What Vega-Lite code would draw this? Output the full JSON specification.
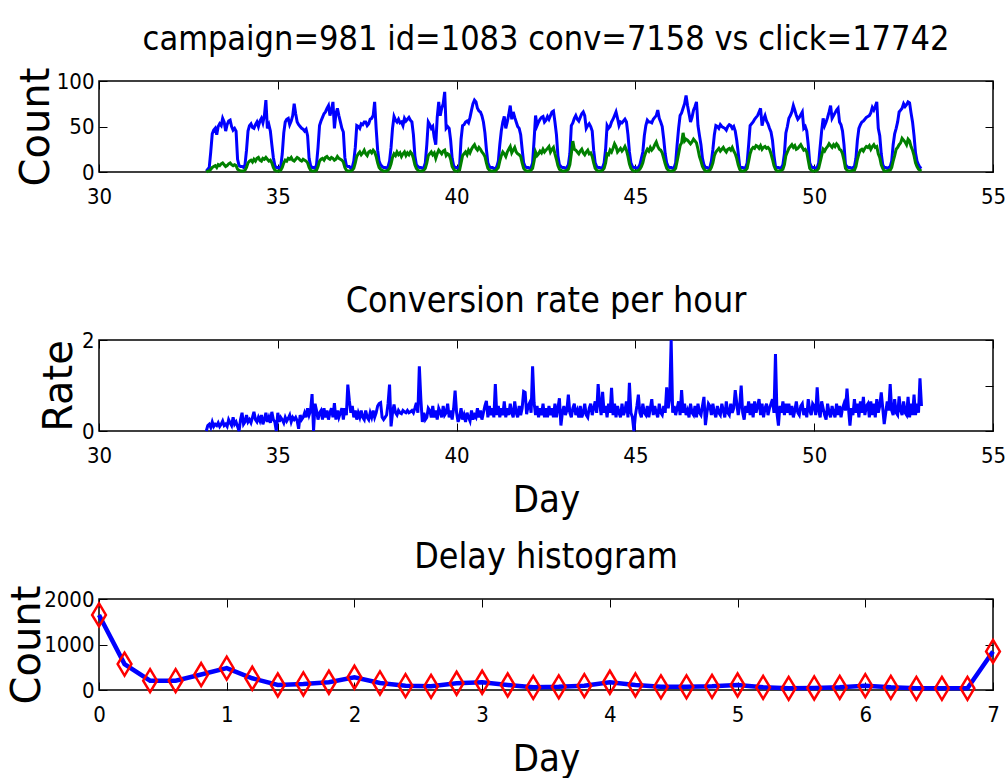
{
"$schema": "https://vega.github.io/schema/vega-lite/v6.json",
"background": "white",
"padding": {"left": 6, "top": 22, "right": 0, "bottom": 0},
"config": {
 "view": {"stroke": "black", "strokeWidth": 1.5},
 "axis": {"domain": false, "grid": false, "ticks": true, "tickSize": -8, "tickColor": "black", "tickWidth": 1,
  "labelFont": "DejaVu Sans Condensed", "labelFontSize": 22, "labelColor": "black",
  "labelFlush": false, "labelOverlap": false, "titleFontWeight": "normal", "titleColor": "black"},
 "axisX": {"labelPadding": 22, "titleFont": "DejaVu Sans Condensed", "titleFontSize": 38, "titlePadding": 15},
 "axisY": {"labelPadding": 13, "titleFont": "DejaVu Sans", "titleFontSize": 40, "titlePadding": 0},
 "title": {"font": "DejaVu Sans Condensed", "fontSize": 34, "fontWeight": "normal", "color": "black", "offset": 10}
},
"datasets": {
"h": [
{"t":33,"b":1,"g":0,"r":0},{"t":33.042,"b":3,"g":1,"r":0.12},{"t":33.083,"b":5,"g":1,"r":0.15},{"t":33.125,"b":22,"g":3,"r":0.08},{"t":33.167,"b":42,"g":5,"r":0.2},{"t":33.208,"b":46,"g":6,"r":0.1},{"t":33.25,"b":48,"g":7,"r":0.15},{"t":33.292,"b":41,"g":5,"r":0.12},{"t":33.333,"b":50,"g":8,"r":0.18},{"t":33.375,"b":53,"g":7,"r":0.1},{"t":33.417,"b":51,"g":9,"r":0.15},{"t":33.458,"b":59,"g":10,"r":0.22},{"t":33.5,"b":55,"g":8,"r":0.12},{"t":33.542,"b":45,"g":6,"r":0.15},{"t":33.583,"b":52,"g":7,"r":0.1},{"t":33.625,"b":56,"g":9,"r":0.25},{"t":33.667,"b":57,"g":10,"r":0.18},{"t":33.708,"b":50,"g":8,"r":0.12},{"t":33.75,"b":46,"g":7,"r":0.3},{"t":33.792,"b":48,"g":8,"r":0.15},{"t":33.833,"b":45,"g":7,"r":0.2},{"t":33.875,"b":14,"g":3,"r":0.1},{"t":33.917,"b":7,"g":2,"r":0},{"t":33.958,"b":6,"g":1,"r":0.25},
{"t":34,"b":6,"g":1,"r":0.4},{"t":34.042,"b":5,"g":1,"r":0.15},{"t":34.083,"b":8,"g":2,"r":0.2},{"t":34.125,"b":24,"g":5,"r":0.35},{"t":34.167,"b":45,"g":10,"r":0.2},{"t":34.208,"b":51,"g":12,"r":0.25},{"t":34.25,"b":53,"g":13,"r":0.18},{"t":34.292,"b":49,"g":11,"r":0.3},{"t":34.333,"b":48,"g":14,"r":0.42},{"t":34.375,"b":52,"g":12,"r":0.25},{"t":34.417,"b":55,"g":15,"r":0.2},{"t":34.458,"b":50,"g":16,"r":0.3},{"t":34.5,"b":56,"g":13,"r":0.22},{"t":34.542,"b":59,"g":12,"r":0.35},{"t":34.583,"b":54,"g":15,"r":0.15},{"t":34.625,"b":62,"g":14,"r":0.25},{"t":34.667,"b":79,"g":16,"r":0.4},{"t":34.708,"b":48,"g":14,"r":0.2},{"t":34.75,"b":52,"g":12,"r":0.3},{"t":34.792,"b":45,"g":13,"r":0.18},{"t":34.833,"b":30,"g":10,"r":0.42},{"t":34.875,"b":16,"g":5,"r":0.25},{"t":34.917,"b":7,"g":2,"r":0.2},{"t":34.958,"b":5,"g":1,"r":0},
{"t":35,"b":5,"g":1,"r":0.4},{"t":35.042,"b":4,"g":1,"r":0.2},{"t":35.083,"b":6,"g":2,"r":0.3},{"t":35.125,"b":20,"g":5,"r":0.25},{"t":35.167,"b":43,"g":10,"r":0.18},{"t":35.208,"b":55,"g":13,"r":0.3},{"t":35.25,"b":58,"g":12,"r":0.22},{"t":35.292,"b":59,"g":15,"r":0.28},{"t":35.333,"b":52,"g":14,"r":0.35},{"t":35.375,"b":56,"g":16,"r":0.2},{"t":35.417,"b":62,"g":13,"r":0.3},{"t":35.458,"b":75,"g":12,"r":0.25},{"t":35.5,"b":64,"g":14,"r":0.3},{"t":35.542,"b":55,"g":16,"r":0.22},{"t":35.583,"b":52,"g":15,"r":0.05},{"t":35.625,"b":50,"g":13,"r":0.35},{"t":35.667,"b":48,"g":12,"r":0.25},{"t":35.708,"b":47,"g":14,"r":0.3},{"t":35.75,"b":45,"g":13,"r":0.4},{"t":35.792,"b":47,"g":12,"r":0.3},{"t":35.833,"b":40,"g":10,"r":0.5},{"t":35.875,"b":15,"g":5,"r":0.35},{"t":35.917,"b":7,"g":2,"r":0.45},{"t":35.958,"b":5,"g":1,"r":0.81},
{"t":36,"b":5,"g":1,"r":0},{"t":36.042,"b":4,"g":1,"r":0.6},{"t":36.083,"b":8,"g":2,"r":0.45},{"t":36.125,"b":27,"g":6,"r":0.25},{"t":36.167,"b":51,"g":12,"r":0.4},{"t":36.208,"b":56,"g":14,"r":0.45},{"t":36.25,"b":60,"g":15,"r":0.25},{"t":36.292,"b":64,"g":13,"r":0.5},{"t":36.333,"b":66,"g":16,"r":0.3},{"t":36.375,"b":70,"g":17,"r":0.45},{"t":36.417,"b":73,"g":15,"r":0.25},{"t":36.458,"b":62,"g":14,"r":0.4},{"t":36.5,"b":68,"g":16,"r":0.5},{"t":36.542,"b":77,"g":15,"r":0.3},{"t":36.583,"b":48,"g":13,"r":0.61},{"t":36.625,"b":64,"g":14,"r":0.25},{"t":36.667,"b":70,"g":17,"r":0.45},{"t":36.708,"b":62,"g":15,"r":0.3},{"t":36.75,"b":55,"g":14,"r":0.4},{"t":36.792,"b":48,"g":13,"r":0.5},{"t":36.833,"b":44,"g":11,"r":0.25},{"t":36.875,"b":16,"g":5,"r":0.5},{"t":36.917,"b":7,"g":2,"r":0.35},{"t":36.958,"b":6,"g":1,"r":1.02},
{"t":37,"b":6,"g":1,"r":0.67},{"t":37.042,"b":4,"g":1,"r":0.4},{"t":37.083,"b":5,"g":2,"r":0.55},{"t":37.125,"b":12,"g":4,"r":0.3},{"t":37.167,"b":27,"g":10,"r":0.45},{"t":37.208,"b":51,"g":17,"r":0.25},{"t":37.25,"b":50,"g":20,"r":0.4},{"t":37.292,"b":48,"g":22,"r":0.3},{"t":37.333,"b":53,"g":19,"r":0.45},{"t":37.375,"b":52,"g":21,"r":0.3},{"t":37.417,"b":55,"g":24,"r":0.25},{"t":37.458,"b":55,"g":20,"r":0.45},{"t":37.5,"b":51,"g":18,"r":0.3},{"t":37.542,"b":53,"g":22,"r":0.25},{"t":37.583,"b":58,"g":23,"r":0.4},{"t":37.625,"b":59,"g":21,"r":0.3},{"t":37.667,"b":62,"g":24,"r":0.45},{"t":37.708,"b":77,"g":22,"r":0.3},{"t":37.75,"b":48,"g":17,"r":0.4},{"t":37.792,"b":24,"g":10,"r":0.55},{"t":37.833,"b":12,"g":5,"r":0.6},{"t":37.875,"b":8,"g":3,"r":0.62},{"t":37.917,"b":6,"g":2,"r":0.3},{"t":37.958,"b":5,"g":1,"r":0.25},
{"t":38,"b":5,"g":1,"r":0.3},{"t":38.042,"b":4,"g":1,"r":0.35},{"t":38.083,"b":6,"g":2,"r":0.6},{"t":38.125,"b":12,"g":4,"r":1.02},{"t":38.167,"b":27,"g":9,"r":0.1},{"t":38.208,"b":48,"g":16,"r":0.4},{"t":38.25,"b":61,"g":20,"r":0.58},{"t":38.292,"b":57,"g":18,"r":0.4},{"t":38.333,"b":55,"g":22,"r":0.35},{"t":38.375,"b":58,"g":19,"r":0.45},{"t":38.417,"b":54,"g":21,"r":0.4},{"t":38.458,"b":55,"g":17,"r":0.38},{"t":38.5,"b":51,"g":20,"r":0.45},{"t":38.542,"b":59,"g":22,"r":0.42},{"t":38.583,"b":56,"g":18,"r":0.4},{"t":38.625,"b":58,"g":21,"r":0.45},{"t":38.667,"b":60,"g":19,"r":0.4},{"t":38.708,"b":57,"g":22,"r":0.42},{"t":38.75,"b":55,"g":20,"r":0.45},{"t":38.792,"b":41,"g":15,"r":0.4},{"t":38.833,"b":18,"g":8,"r":0.5},{"t":38.875,"b":8,"g":4,"r":0.62},{"t":38.917,"b":6,"g":2,"r":0.4},{"t":38.958,"b":5,"g":1,"r":1.42},
{"t":39,"b":5,"g":1,"r":0.7},{"t":39.042,"b":4,"g":1,"r":0.2},{"t":39.083,"b":5,"g":2,"r":0.4},{"t":39.125,"b":10,"g":4,"r":0.25},{"t":39.167,"b":30,"g":10,"r":0.3},{"t":39.208,"b":55,"g":18,"r":0.5},{"t":39.25,"b":52,"g":20,"r":0.45},{"t":39.292,"b":48,"g":22,"r":0.3},{"t":39.333,"b":50,"g":19,"r":0.55},{"t":39.375,"b":38,"g":21,"r":0.3},{"t":39.417,"b":30,"g":15,"r":0.45},{"t":39.458,"b":60,"g":20,"r":0.25},{"t":39.5,"b":77,"g":24,"r":0.5},{"t":39.542,"b":62,"g":22,"r":0.42},{"t":39.583,"b":70,"g":20,"r":0.3},{"t":39.625,"b":75,"g":23,"r":0.55},{"t":39.667,"b":88,"g":24,"r":0.35},{"t":39.708,"b":48,"g":18,"r":0.4},{"t":39.75,"b":50,"g":20,"r":0.6},{"t":39.792,"b":48,"g":19,"r":0.3},{"t":39.833,"b":35,"g":14,"r":0.45},{"t":39.875,"b":15,"g":6,"r":0.25},{"t":39.917,"b":7,"g":3,"r":0.5},{"t":39.958,"b":5,"g":1,"r":0.89},
{"t":40,"b":5,"g":1,"r":0.4},{"t":40.042,"b":4,"g":1,"r":0.2},{"t":40.083,"b":6,"g":2,"r":0.3},{"t":40.125,"b":36,"g":10,"r":0.5},{"t":40.167,"b":51,"g":18,"r":0.25},{"t":40.208,"b":52,"g":20,"r":0.35},{"t":40.25,"b":55,"g":22,"r":0.2},{"t":40.292,"b":56,"g":19,"r":0.4},{"t":40.333,"b":54,"g":24,"r":0.3},{"t":40.375,"b":60,"g":21,"r":0.22},{"t":40.417,"b":68,"g":25,"r":0.45},{"t":40.458,"b":75,"g":28,"r":0.25},{"t":40.5,"b":79,"g":30,"r":0.35},{"t":40.542,"b":77,"g":26,"r":0.3},{"t":40.583,"b":70,"g":24,"r":0.5},{"t":40.625,"b":67,"g":27,"r":0.3},{"t":40.667,"b":66,"g":25,"r":0.45},{"t":40.708,"b":62,"g":22,"r":0.25},{"t":40.75,"b":55,"g":20,"r":0.4},{"t":40.792,"b":43,"g":17,"r":0.55},{"t":40.833,"b":25,"g":10,"r":0.66},{"t":40.875,"b":10,"g":4,"r":0.3},{"t":40.917,"b":6,"g":2,"r":0.55},{"t":40.958,"b":5,"g":1,"r":0.35},
{"t":41,"b":5,"g":1,"r":0.5},{"t":41.042,"b":4,"g":1,"r":0.3},{"t":41.083,"b":3,"g":1,"r":1.03},{"t":41.125,"b":6,"g":3,"r":0.35},{"t":41.167,"b":12,"g":5,"r":0.55},{"t":41.208,"b":30,"g":12,"r":0.3},{"t":41.25,"b":45,"g":18,"r":0.5},{"t":41.292,"b":55,"g":22,"r":0.35},{"t":41.333,"b":61,"g":20,"r":0.65},{"t":41.375,"b":48,"g":17,"r":0.3},{"t":41.417,"b":55,"g":22,"r":0.5},{"t":41.458,"b":63,"g":25,"r":0.35},{"t":41.5,"b":73,"g":28,"r":0.6},{"t":41.542,"b":58,"g":21,"r":0.4},{"t":41.583,"b":66,"g":24,"r":0.3},{"t":41.625,"b":60,"g":27,"r":0.65},{"t":41.667,"b":55,"g":22,"r":0.4},{"t":41.708,"b":50,"g":20,"r":0.3},{"t":41.75,"b":48,"g":19,"r":0.55},{"t":41.792,"b":41,"g":17,"r":0.35},{"t":41.833,"b":25,"g":10,"r":0.5},{"t":41.875,"b":10,"g":4,"r":0.87},{"t":41.917,"b":6,"g":2,"r":0.85},{"t":41.958,"b":5,"g":1,"r":0.37},
{"t":42,"b":5,"g":1,"r":0.55},{"t":42.042,"b":4,"g":1,"r":0.62},{"t":42.083,"b":5,"g":2,"r":0.4},{"t":42.125,"b":10,"g":4,"r":1.42},{"t":42.167,"b":35,"g":12,"r":0.62},{"t":42.208,"b":62,"g":22,"r":0.35},{"t":42.25,"b":51,"g":18,"r":0.55},{"t":42.292,"b":55,"g":20,"r":0.3},{"t":42.333,"b":58,"g":23,"r":0.5},{"t":42.375,"b":60,"g":21,"r":0.35},{"t":42.417,"b":61,"g":25,"r":0.6},{"t":42.458,"b":55,"g":22,"r":0.3},{"t":42.5,"b":57,"g":24,"r":0.5},{"t":42.542,"b":61,"g":26,"r":0.3},{"t":42.583,"b":58,"g":28,"r":0.55},{"t":42.625,"b":62,"g":22,"r":0.35},{"t":42.667,"b":66,"g":25,"r":0.5},{"t":42.708,"b":67,"g":27,"r":0.3},{"t":42.75,"b":55,"g":20,"r":0.6},{"t":42.792,"b":41,"g":14,"r":0.3},{"t":42.833,"b":18,"g":7,"r":0.5},{"t":42.875,"b":8,"g":3,"r":0.72},{"t":42.917,"b":6,"g":2,"r":0.12},{"t":42.958,"b":5,"g":1,"r":0.4},
{"t":43,"b":5,"g":1,"r":0.55},{"t":43.042,"b":4,"g":1,"r":0.35},{"t":43.083,"b":5,"g":2,"r":0.45},{"t":43.125,"b":8,"g":3,"r":0.8},{"t":43.167,"b":20,"g":8,"r":0.4},{"t":43.208,"b":51,"g":20,"r":0.3},{"t":43.25,"b":54,"g":34,"r":0.5},{"t":43.292,"b":59,"g":25,"r":0.6},{"t":43.333,"b":62,"g":24,"r":0.35},{"t":43.375,"b":58,"g":22,"r":0.45},{"t":43.417,"b":56,"g":20,"r":0.3},{"t":43.458,"b":60,"g":23,"r":0.55},{"t":43.5,"b":64,"g":25,"r":0.3},{"t":43.542,"b":66,"g":21,"r":0.4},{"t":43.583,"b":62,"g":19,"r":0.6},{"t":43.625,"b":48,"g":22,"r":0.35},{"t":43.667,"b":51,"g":24,"r":0.3},{"t":43.708,"b":53,"g":20,"r":0.5},{"t":43.75,"b":50,"g":21,"r":0.6},{"t":43.792,"b":45,"g":17,"r":0.35},{"t":43.833,"b":24,"g":10,"r":0.5},{"t":43.875,"b":10,"g":4,"r":0.65},{"t":43.917,"b":6,"g":2,"r":0.4},{"t":43.958,"b":5,"g":1,"r":1.03},
{"t":44,"b":5,"g":1,"r":0.6},{"t":44.042,"b":4,"g":1,"r":0.35},{"t":44.083,"b":5,"g":2,"r":0.86},{"t":44.125,"b":10,"g":4,"r":0.4},{"t":44.167,"b":25,"g":10,"r":0.55},{"t":44.208,"b":51,"g":20,"r":0.3},{"t":44.25,"b":48,"g":19,"r":0.6},{"t":44.292,"b":50,"g":24,"r":0.4},{"t":44.333,"b":55,"g":22,"r":0.95},{"t":44.375,"b":58,"g":26,"r":0.35},{"t":44.417,"b":62,"g":31,"r":0.6},{"t":44.458,"b":66,"g":28,"r":0.3},{"t":44.5,"b":59,"g":22,"r":0.55},{"t":44.542,"b":51,"g":24,"r":0.4},{"t":44.583,"b":55,"g":26,"r":0.3},{"t":44.625,"b":54,"g":23,"r":0.6},{"t":44.667,"b":56,"g":25,"r":0.35},{"t":44.708,"b":58,"g":28,"r":0.45},{"t":44.75,"b":55,"g":24,"r":0.65},{"t":44.792,"b":41,"g":17,"r":0.3},{"t":44.833,"b":22,"g":9,"r":1.06},{"t":44.875,"b":10,"g":4,"r":0.4},{"t":44.917,"b":6,"g":2,"r":0.3},{"t":44.958,"b":5,"g":1,"r":0},
{"t":45,"b":5,"g":1,"r":0.35},{"t":45.042,"b":4,"g":1,"r":0.55},{"t":45.083,"b":5,"g":2,"r":0.8},{"t":45.125,"b":8,"g":3,"r":0.4},{"t":45.167,"b":15,"g":6,"r":0.3},{"t":45.208,"b":22,"g":10,"r":0.6},{"t":45.25,"b":40,"g":17,"r":0.4},{"t":45.292,"b":51,"g":22,"r":0.35},{"t":45.333,"b":57,"g":25,"r":0.55},{"t":45.375,"b":55,"g":23,"r":0.3},{"t":45.417,"b":55,"g":27,"r":0.5},{"t":45.458,"b":54,"g":24,"r":0.7},{"t":45.5,"b":58,"g":26,"r":0.35},{"t":45.542,"b":60,"g":30,"r":0.55},{"t":45.583,"b":62,"g":33,"r":0.4},{"t":45.625,"b":68,"g":28,"r":0.3},{"t":45.667,"b":59,"g":25,"r":0.6},{"t":45.708,"b":55,"g":24,"r":0.4},{"t":45.75,"b":50,"g":21,"r":0.35},{"t":45.792,"b":36,"g":15,"r":0.55},{"t":45.833,"b":20,"g":9,"r":0.4},{"t":45.875,"b":10,"g":4,"r":0.96},{"t":45.917,"b":6,"g":2,"r":0.5},{"t":45.958,"b":5,"g":1,"r":0.7},
{"t":46,"b":5,"g":1,"r":2.0},{"t":46.042,"b":4,"g":1,"r":0.4},{"t":46.083,"b":5,"g":2,"r":0.55},{"t":46.125,"b":10,"g":4,"r":0.35},{"t":46.167,"b":30,"g":12,"r":0.5},{"t":46.208,"b":48,"g":20,"r":0.65},{"t":46.25,"b":62,"g":29,"r":0.35},{"t":46.292,"b":65,"g":32,"r":0.9},{"t":46.333,"b":70,"g":43,"r":0.4},{"t":46.375,"b":75,"g":34,"r":0.6},{"t":46.417,"b":84,"g":36,"r":0.35},{"t":46.458,"b":73,"g":35,"r":0.45},{"t":46.5,"b":64,"g":33,"r":0.3},{"t":46.542,"b":55,"g":31,"r":0.6},{"t":46.583,"b":60,"g":33,"r":0.4},{"t":46.625,"b":68,"g":36,"r":0.35},{"t":46.667,"b":72,"g":34,"r":0.55},{"t":46.708,"b":77,"g":32,"r":0.3},{"t":46.75,"b":51,"g":25,"r":0.6},{"t":46.792,"b":40,"g":17,"r":0.4},{"t":46.833,"b":30,"g":12,"r":0.35},{"t":46.875,"b":15,"g":6,"r":0.55},{"t":46.917,"b":8,"g":3,"r":0.75},{"t":46.958,"b":5,"g":1,"r":0.13},
{"t":47,"b":5,"g":1,"r":0.4},{"t":47.042,"b":4,"g":1,"r":0.6},{"t":47.083,"b":5,"g":2,"r":0.55},{"t":47.125,"b":12,"g":5,"r":0.35},{"t":47.167,"b":25,"g":10,"r":0.6},{"t":47.208,"b":41,"g":18,"r":0.4},{"t":47.25,"b":51,"g":22,"r":0.3},{"t":47.292,"b":50,"g":24,"r":0.55},{"t":47.333,"b":48,"g":26,"r":0.4},{"t":47.375,"b":52,"g":23,"r":0.35},{"t":47.417,"b":50,"g":25,"r":0.6},{"t":47.458,"b":49,"g":27,"r":0.45},{"t":47.5,"b":48,"g":24,"r":0.3},{"t":47.542,"b":46,"g":22,"r":0.65},{"t":47.583,"b":50,"g":25,"r":0.4},{"t":47.625,"b":52,"g":26,"r":0.35},{"t":47.667,"b":51,"g":24,"r":0.6},{"t":47.708,"b":48,"g":27,"r":0.4},{"t":47.75,"b":50,"g":23,"r":0.5},{"t":47.792,"b":45,"g":20,"r":0.9},{"t":47.833,"b":35,"g":15,"r":0.62},{"t":47.875,"b":21,"g":8,"r":0.35},{"t":47.917,"b":6,"g":3,"r":0.55},{"t":47.958,"b":5,"g":1,"r":1.0},
{"t":48,"b":5,"g":1,"r":0.4},{"t":48.042,"b":4,"g":1,"r":0.25},{"t":48.083,"b":5,"g":2,"r":0.55},{"t":48.125,"b":10,"g":4,"r":0.4},{"t":48.167,"b":30,"g":12,"r":0.65},{"t":48.208,"b":51,"g":20,"r":0.35},{"t":48.25,"b":53,"g":25,"r":0.6},{"t":48.292,"b":55,"g":27,"r":0.3},{"t":48.333,"b":58,"g":26,"r":0.65},{"t":48.375,"b":60,"g":29,"r":0.4},{"t":48.417,"b":62,"g":28,"r":0.55},{"t":48.458,"b":66,"g":26,"r":0.7},{"t":48.5,"b":70,"g":29,"r":0.35},{"t":48.542,"b":51,"g":25,"r":0.6},{"t":48.583,"b":58,"g":27,"r":0.3},{"t":48.625,"b":62,"g":28,"r":0.5},{"t":48.667,"b":56,"g":26,"r":0.6},{"t":48.708,"b":53,"g":27,"r":0.35},{"t":48.75,"b":48,"g":25,"r":0.5},{"t":48.792,"b":44,"g":20,"r":0.6},{"t":48.833,"b":35,"g":14,"r":0.7},{"t":48.875,"b":18,"g":7,"r":0.4},{"t":48.917,"b":6,"g":3,"r":1.69},{"t":48.958,"b":5,"g":1,"r":0.4},
{"t":49,"b":5,"g":1,"r":0.12},{"t":49.042,"b":4,"g":1,"r":0.55},{"t":49.083,"b":5,"g":2,"r":0.4},{"t":49.125,"b":8,"g":3,"r":0.65},{"t":49.167,"b":20,"g":8,"r":0.35},{"t":49.208,"b":43,"g":18,"r":0.6},{"t":49.25,"b":50,"g":22,"r":0.4},{"t":49.292,"b":59,"g":26,"r":0.6},{"t":49.333,"b":62,"g":28,"r":0.35},{"t":49.375,"b":66,"g":30,"r":0.55},{"t":49.417,"b":73,"g":27,"r":0.3},{"t":49.458,"b":68,"g":29,"r":0.45},{"t":49.5,"b":62,"g":25,"r":0.65},{"t":49.542,"b":58,"g":26,"r":0.4},{"t":49.583,"b":60,"g":28,"r":0.35},{"t":49.625,"b":63,"g":30,"r":0.55},{"t":49.667,"b":66,"g":27,"r":0.6},{"t":49.708,"b":48,"g":24,"r":0.35},{"t":49.75,"b":50,"g":25,"r":0.5},{"t":49.792,"b":45,"g":22,"r":0.3},{"t":49.833,"b":30,"g":13,"r":0.7},{"t":49.875,"b":10,"g":4,"r":0.45},{"t":49.917,"b":6,"g":2,"r":0.35},{"t":49.958,"b":5,"g":1,"r":0.6},
{"t":50,"b":5,"g":1,"r":0.55},{"t":50.042,"b":4,"g":1,"r":0.35},{"t":50.083,"b":5,"g":2,"r":0.96},{"t":50.125,"b":10,"g":4,"r":0.45},{"t":50.167,"b":28,"g":11,"r":0.3},{"t":50.208,"b":45,"g":18,"r":0.65},{"t":50.25,"b":59,"g":25,"r":0.5},{"t":50.292,"b":51,"g":23,"r":0.35},{"t":50.333,"b":55,"g":26,"r":0.25},{"t":50.375,"b":60,"g":28,"r":0.6},{"t":50.417,"b":66,"g":31,"r":0.4},{"t":50.458,"b":73,"g":29,"r":0.3},{"t":50.5,"b":59,"g":27,"r":0.55},{"t":50.542,"b":62,"g":30,"r":0.4},{"t":50.583,"b":65,"g":28,"r":0.3},{"t":50.625,"b":68,"g":31,"r":0.6},{"t":50.667,"b":70,"g":29,"r":0.35},{"t":50.708,"b":55,"g":25,"r":0.55},{"t":50.75,"b":52,"g":24,"r":0.3},{"t":50.792,"b":45,"g":20,"r":0.5},{"t":50.833,"b":30,"g":13,"r":0.6},{"t":50.875,"b":8,"g":4,"r":0.45},{"t":50.917,"b":6,"g":2,"r":0.93},{"t":50.958,"b":5,"g":1,"r":0.5},
{"t":51,"b":5,"g":1,"r":0.12},{"t":51.042,"b":4,"g":1,"r":0.5},{"t":51.083,"b":5,"g":2,"r":0.35},{"t":51.125,"b":6,"g":2,"r":0.7},{"t":51.167,"b":15,"g":6,"r":0.4},{"t":51.208,"b":35,"g":14,"r":0.6},{"t":51.25,"b":48,"g":20,"r":0.3},{"t":51.292,"b":52,"g":24,"r":0.65},{"t":51.333,"b":55,"g":25,"r":0.4},{"t":51.375,"b":56,"g":23,"r":0.75},{"t":51.417,"b":58,"g":26,"r":0.35},{"t":51.458,"b":60,"g":28,"r":0.55},{"t":51.5,"b":61,"g":27,"r":0.6},{"t":51.542,"b":62,"g":29,"r":0.3},{"t":51.583,"b":65,"g":25,"r":0.65},{"t":51.625,"b":71,"g":28,"r":0.35},{"t":51.667,"b":68,"g":30,"r":0.6},{"t":51.708,"b":72,"g":27,"r":0.3},{"t":51.75,"b":77,"g":28,"r":0.7},{"t":51.792,"b":48,"g":20,"r":0.4},{"t":51.833,"b":40,"g":16,"r":0.55},{"t":51.875,"b":20,"g":8,"r":0.85},{"t":51.917,"b":8,"g":4,"r":0.5},{"t":51.958,"b":5,"g":1,"r":0.15},
{"t":52,"b":5,"g":1,"r":0.4},{"t":52.042,"b":4,"g":1,"r":0.65},{"t":52.083,"b":5,"g":2,"r":0.45},{"t":52.125,"b":6,"g":2,"r":1.03},{"t":52.167,"b":12,"g":5,"r":0.45},{"t":52.208,"b":30,"g":12,"r":0.35},{"t":52.25,"b":42,"g":18,"r":0.7},{"t":52.292,"b":48,"g":25,"r":0.4},{"t":52.333,"b":55,"g":27,"r":0.35},{"t":52.375,"b":66,"g":30,"r":0.76},{"t":52.417,"b":68,"g":32,"r":0.45},{"t":52.458,"b":70,"g":37,"r":0.35},{"t":52.5,"b":75,"g":35,"r":0.65},{"t":52.542,"b":72,"g":33,"r":0.4},{"t":52.583,"b":74,"g":30,"r":0.35},{"t":52.625,"b":77,"g":36,"r":0.75},{"t":52.667,"b":76,"g":34,"r":0.3},{"t":52.708,"b":65,"g":28,"r":0.6},{"t":52.75,"b":55,"g":24,"r":0.35},{"t":52.792,"b":40,"g":18,"r":0.8},{"t":52.833,"b":21,"g":10,"r":0.35},{"t":52.875,"b":12,"g":6,"r":0.6},{"t":52.917,"b":8,"g":3,"r":0.4},{"t":52.958,"b":5,"g":2,"r":1.16},
{"t":53,"b":4,"g":1,"r":0.55}
],
"d": [
{"day":0,"n":1650},{"day":0.2,"n":570},{"day":0.4,"n":206},{"day":0.6,"n":206},{"day":0.8,"n":340},{"day":1,"n":480},{"day":1.2,"n":258},{"day":1.4,"n":110},{"day":1.6,"n":133},{"day":1.8,"n":170},{"day":2,"n":280},{"day":2.2,"n":155},{"day":2.4,"n":96},{"day":2.6,"n":81},{"day":2.8,"n":148},{"day":3,"n":170},{"day":3.2,"n":110},{"day":3.4,"n":59},{"day":3.6,"n":70},{"day":3.8,"n":96},{"day":4,"n":170},{"day":4.2,"n":110},{"day":4.4,"n":70},{"day":4.6,"n":70},{"day":4.8,"n":81},{"day":5,"n":110},{"day":5.2,"n":59},{"day":5.4,"n":37},{"day":5.6,"n":45},{"day":5.8,"n":59},{"day":6,"n":96},{"day":6.2,"n":59},{"day":6.4,"n":37},{"day":6.6,"n":37},{"day":6.8,"n":37},{"day":7,"n":848}
]
},
"bounds": "flush",
"spacing": 168,
"vconcat": [
{
 "width": 894, "height": 91,
 "title": {"text": "campaign=981 id=1083 conv=7158 vs click=17742"},
 "data": {"name": "h"},
 "layer": [
  {"mark": {"type": "line", "color": "#0000ff", "strokeWidth": 3},
   "encoding": {
    "x": {"field": "t", "type": "quantitative", "scale": {"domain": [30, 55], "nice": false}, "axis": {"orient": "bottom", "values": [30,35,40,45,50,55], "title": null}},
    "y": {"field": "b", "type": "quantitative", "scale": {"domain": [0, 100], "nice": false}, "axis": {"orient": "left", "values": [0,50,100], "format": "d", "title": "Count"}}}},
  {"mark": {"type": "line", "color": "#008000", "strokeWidth": 3},
   "encoding": {
    "x": {"field": "t", "type": "quantitative", "axis": {"orient": "top", "values": [30,35,40,45,50,55], "labels": false, "title": null}},
    "y": {"field": "g", "type": "quantitative", "axis": {"orient": "right", "values": [0,50,100], "labels": false, "title": null}}}}
 ],
 "resolve": {"axis": {"x": "independent", "y": "independent"}}
},
{
 "width": 894, "height": 91,
 "title": {"text": "Conversion rate per hour", "fontSize": 35.5},
 "data": {"name": "h"},
 "layer": [
  {"mark": {"type": "line", "color": "#0000ff", "strokeWidth": 3},
   "encoding": {
    "x": {"field": "t", "type": "quantitative", "scale": {"domain": [30, 55], "nice": false}, "axis": {"orient": "bottom", "values": [30,35,40,45,50,55], "title": "Day"}},
    "y": {"field": "r", "type": "quantitative", "scale": {"domain": [0, 2], "nice": false}, "axis": {"orient": "left", "values": [0,1,2], "format": "d", "title": "Rate", "titlePadding": 2}}}},
  {"mark": {"type": "line", "color": "#0000ff", "strokeWidth": 3, "opacity": 0},
   "encoding": {
    "x": {"field": "t", "type": "quantitative", "axis": {"orient": "top", "values": [30,35,40,45,50,55], "labels": false, "title": null}},
    "y": {"field": "r", "type": "quantitative", "axis": {"orient": "right", "values": [0,1,2], "labels": false, "title": null}}}}
 ],
 "resolve": {"axis": {"x": "independent", "y": "independent"}}
},
{
 "width": 894, "height": 91,
 "title": {"text": "Delay histogram", "fontSize": 35.5},
 "data": {"name": "d"},
 "layer": [
  {"mark": {"type": "line", "color": "#0000ff", "strokeWidth": 4.5},
   "encoding": {
    "x": {"field": "day", "type": "quantitative", "scale": {"domain": [0, 7], "nice": false}, "axis": {"orient": "bottom", "values": [0,1,2,3,4,5,6,7], "title": "Day"}},
    "y": {"field": "n", "type": "quantitative", "scale": {"domain": [0, 2000], "nice": false}, "axis": {"orient": "left", "values": [0,1000,2000], "format": "d", "title": "Count", "titlePadding": -4}}}},
  {"mark": {"type": "point", "shape": "M0,-1L0.6,0L0,1L-0.6,0Z", "size": 529, "filled": false, "color": "#ff0000", "strokeWidth": 2.5, "opacity": 1},
   "encoding": {
    "x": {"field": "day", "type": "quantitative", "axis": {"orient": "top", "values": [0,1,2,3,4,5,6,7], "labels": false, "title": null}},
    "y": {"field": "n", "type": "quantitative", "axis": {"orient": "right", "values": [0,1000,2000], "labels": false, "title": null}}}}
 ],
 "resolve": {"axis": {"x": "independent", "y": "independent"}}
}
]
}
